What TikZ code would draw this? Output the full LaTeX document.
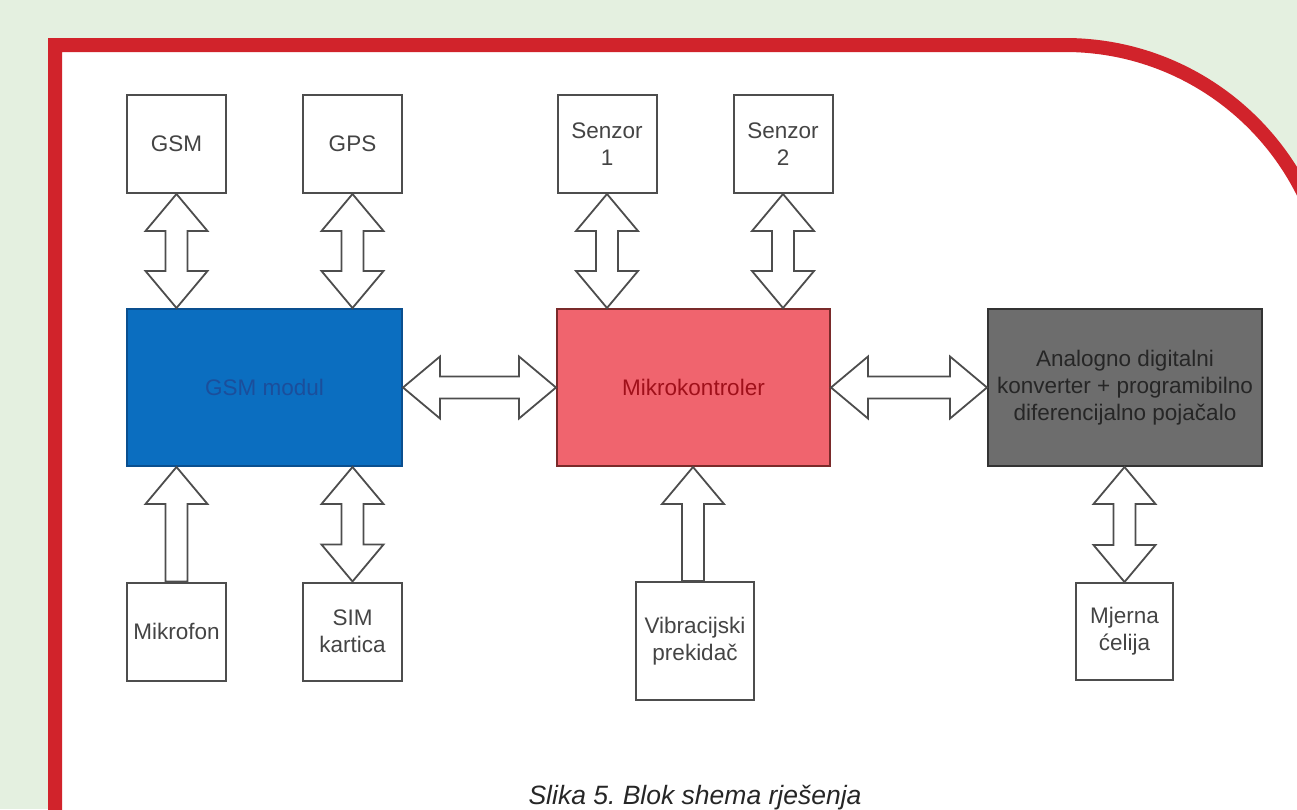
\documentclass[tikz,border=0pt]{standalone}
\usepackage{fontspec}
\setmainfont{Liberation Sans}
\usetikzlibrary{calc}
\definecolor{bggreen}{HTML}{E4F0E0}
\definecolor{framered}{HTML}{D1232B}
\definecolor{gsmblue}{HTML}{0B6EC0}
\definecolor{gsmedge}{HTML}{0A4F8F}
\definecolor{gsmtext}{HTML}{1B4E9B}
\definecolor{mcured}{HTML}{F0646E}
\definecolor{mcuedge}{HTML}{7A2A2A}
\definecolor{mcutext}{HTML}{A0101A}
\definecolor{adcgray}{HTML}{6D6D6D}
\definecolor{adcedge}{HTML}{333333}
\definecolor{linegray}{HTML}{4D4D4D}
\definecolor{textgray}{HTML}{444444}
\tikzset{
  box/.style={draw=linegray, line width=2pt, fill=white, minimum width=99pt,
    minimum height=98pt, align=center, text=textgray, inner sep=0pt,
    font=\fontsize{22.5}{27}\selectfont},
  bigbox/.style={box, minimum width=275pt, minimum height=157pt},
  conn/.style={draw=linegray, line width=1.8pt, fill=white, line join=miter},
}
\newcommand\dblv[2]{\draw[conn] (#1) -- ($(#1)+(31,37)$) -- ($(#1)+(11,37)$) -- ($(#2)+(11,-37)$) -- ($(#2)+(31,-37)$) -- (#2) -- ($(#2)+(-31,-37)$) -- ($(#2)+(-11,-37)$) -- ($(#1)+(-11,37)$) -- ($(#1)+(-31,37)$) -- cycle;}
\newcommand\sngup[2]{\draw[conn] (#1) -- ($(#1)+(31,37)$) -- ($(#1)+(11,37)$) -- ($(#2)+(11,0)$) -- ($(#2)+(-11,0)$) -- ($(#1)+(-11,37)$) -- ($(#1)+(-31,37)$) -- cycle;}
\newcommand\dblh[2]{\draw[conn] (#1) -- ($(#1)+(37,-31)$) -- ($(#1)+(37,-11)$) -- ($(#2)+(-37,-11)$) -- ($(#2)+(-37,-31)$) -- (#2) -- ($(#2)+(-37,31)$) -- ($(#2)+(-37,11)$) -- ($(#1)+(37,11)$) -- ($(#1)+(37,31)$) -- cycle;}
\begin{document}
\begin{tikzpicture}[x=1pt,y=-1pt]
\useasboundingbox (0,0) rectangle (1297,809);
\clip (0,0) rectangle (1297,809);
\fill[bggreen] (0,0) rectangle (1297,809);
\filldraw[fill=white, draw=framered, line width=14pt] (55,840) -- (55,45) -- (1065,45)
  arc[start angle=-90, end angle=0, radius=266] -- (1331,840) -- cycle;

% top boxes
\node[box] (gsm) at (176.5,144) {GSM};
\node[box] (gps) at (352.5,144) {GPS};
\node[box] (s1) at (607,144) {Senzor\\1};
\node[box] (s2) at (783,144) {Senzor\\2};
% main blocks
\node[bigbox, fill=gsmblue, draw=gsmedge, text=gsmtext] (gsmm) at (264.5,387.5) {GSM modul};
\node[bigbox, minimum width=273pt, fill=mcured, draw=mcuedge, text=mcutext] (mcu) at (693.5,387.5) {Mikrokontroler};
\node[bigbox, minimum width=274pt, fill=adcgray, draw=adcedge, text=black!85] (adc) at (1125,387.5) {Analogno digitalni\\konverter + programibilno\\diferencijalno pojačalo};
% bottom boxes
\node[box] (mic) at (176.5,631.5) {Mikrofon};
\node[box] (sim) at (352.5,631.5) {SIM\\kartica};
\node[box, minimum width=118pt, minimum height=118pt] (vib) at (695,641) {Vibracijski\\prekidač};
\node[box, minimum width=97pt, minimum height=97pt] (mj) at (1124.5,631.5) {Mjerna\\ćelija};

% connector end points
\coordinate (a1) at (gsm.south |- gsmm.north);
\coordinate (a2) at (gps.south |- gsmm.north);
\coordinate (a3) at (s1.south |- mcu.north);
\coordinate (a4) at (s2.south |- mcu.north);
\coordinate (b1) at (mic.north |- gsmm.south);
\coordinate (b2) at (sim.north |- gsmm.south);
\coordinate (b3) at ($(vib.north |- mcu.south)+(-2,0)$);
\coordinate (b3t) at ($(vib.north)+(-2,0)$);
\coordinate (b4) at (mj.north |- adc.south);
\coordinate (h1) at (gsmm.east);
\coordinate (h2) at (mcu.west);
\coordinate (h3) at (mcu.east);
\coordinate (h4) at (adc.west);

\dblv{gsm.south}{a1}
\dblv{gps.south}{a2}
\dblv{s1.south}{a3}
\dblv{s2.south}{a4}
\sngup{b1}{mic.north}
\dblv{b2}{sim.north}
\sngup{b3}{b3t}
\dblv{b4}{mj.north}
\dblh{h1}{h2}
\dblh{h3}{h4}

\node[anchor=base, text=black!85, font=\itshape\fontsize{26.5}{30}\selectfont] (cap) at (695,804) {Slika 5.\ Blok shema rješenja};
\end{tikzpicture}
\end{document}
